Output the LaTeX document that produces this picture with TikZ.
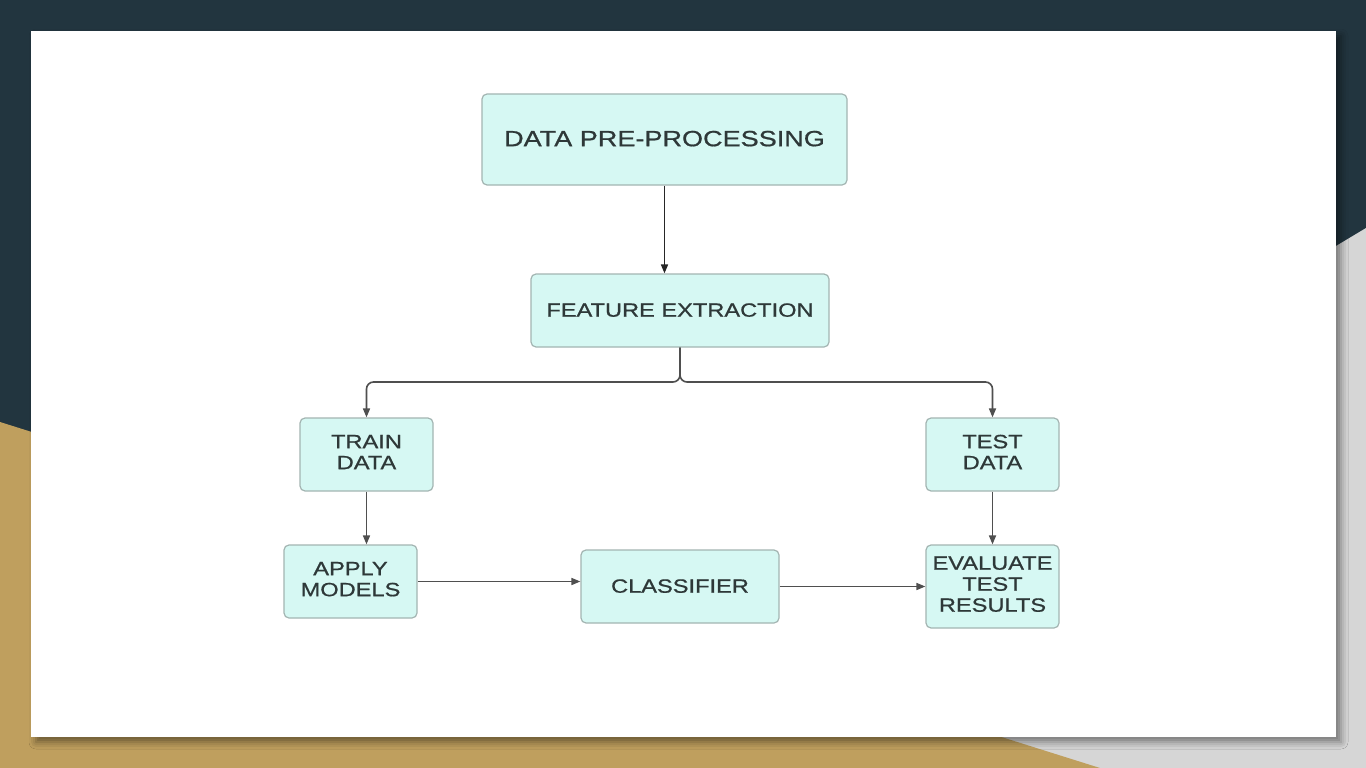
\documentclass[tikz,border=0pt]{standalone}
\usepackage{fontspec}
\newfontfamily\boxfont[FakeStretch=1.23,FakeBold=0.8]{Liberation Sans}
\usetikzlibrary{arrows.meta,shadows.blur}
\definecolor{navy}{HTML}{22353F}
\definecolor{gold}{HTML}{BF9F5E}
\definecolor{lgray}{HTML}{D6D6D6}
\definecolor{boxfill}{HTML}{D6F8F3}
\definecolor{boxline}{HTML}{A3B5B2}
\definecolor{boxtext}{HTML}{2E3838}
\definecolor{conn}{HTML}{4F4F4F}
\newcommand{\lines}[1]{\raisebox{2pt}{\begin{tabular}{@{}c@{}}#1\end{tabular}}}
\tikzset{
  flowbox/.style={draw=boxline, line width=1.2pt, fill=boxfill, rounded corners=5pt,
    inner sep=0pt, align=center, text=boxtext,
    font=\boxfont\fontsize{19.2}{21}\selectfont},
  bigbox/.style={flowbox, font=\boxfont\fontsize{22}{24}\selectfont},
  connector/.style={draw=conn, line width=1.6pt, -{Triangle[length=9pt,width=7pt]}},
}
\begin{document}
\begin{tikzpicture}[x=1pt,y=-1pt]
\useasboundingbox (0,0) rectangle (1366,768);
% background
\fill[navy] (0,0) rectangle (1366,768);
\fill[lgray] (1366,228) -- (600,688) -- (600,768) -- (1366,768) -- cycle;
\fill[gold] (0,422) -- (1100,768) -- (0,768) -- cycle;
% panel
\fill[white, blur shadow={shadow xshift=5pt, shadow yshift=-5pt, shadow blur radius=7pt, shadow opacity=45}] (31,31) rectangle (1336,737);
% nodes
\node[bigbox, minimum width=365pt, minimum height=91pt] (dp) at (664.5,139.5) {\raisebox{2pt}{DATA PRE-PROCESSING}};
\node[flowbox, minimum width=298pt, minimum height=73pt] (fe) at (680,310.5) {\raisebox{1pt}{FEATURE EXTRACTION}};
\node[flowbox, minimum width=133pt, minimum height=73pt] (train) at (366.5,454.5) {\lines{TRAIN\\DATA}};
\node[flowbox, minimum width=133pt, minimum height=73pt] (test) at (992.5,454.5) {\lines{TEST\\DATA}};
\node[flowbox, minimum width=133pt, minimum height=73pt] (apply) at (350.5,581.5) {\lines{APPLY\\MODELS}};
\node[flowbox, minimum width=198pt, minimum height=73pt] (cls) at (680,586.5) {\raisebox{1pt}{CLASSIFIER}};
\node[flowbox, minimum width=133pt, minimum height=83pt] (eval) at (992.5,586.5) {\lines{EVALUATE\\TEST\\RESULTS}};
\coordinate (split) at (680,382);
% connectors
\draw[connector, draw=black!85] (dp.south) -- (dp.south |- fe.north);
\draw[connector, rounded corners=7pt] (fe.south) -- (split) -| (train.north);
\draw[connector, rounded corners=7pt] (fe.south) -- (split) -| (test.north);
\draw[connector] (train.south) -- (train.south |- apply.north);
\draw[connector] (test.south) -- (eval.north);
\draw[connector] (apply.east) -- (apply.east -| cls.west);
\draw[connector] (cls.east) -- (eval.west);
\end{tikzpicture}
\end{document}
